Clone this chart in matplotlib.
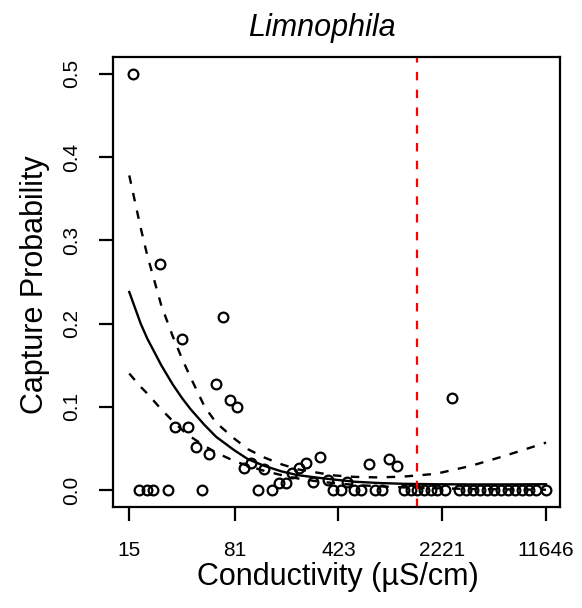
import numpy as np
import matplotlib
matplotlib.use("Agg")
from matplotlib import pyplot as plt

plt.rcParams['font.family'] = ['Liberation Sans', 'DejaVu Sans']

# observed capture probability per site
cond = [15.8, 17.6, 19.8, 22.0, 24.6, 27.7, 31.0, 34.6, 38.5, 43.3,
        48.1, 53.6, 59.9, 67.0, 74.9, 83.3, 93.6, 104.7, 116.5, 129.5,
        145.7, 163.8, 182.2, 202.5, 226.4, 253.2, 283.1, 315.1, 356.3, 389.6,
        438.5, 487.3, 542.4, 603.5, 689, 758, 844, 953, 1072, 1205,
        1341, 1490, 1659, 1846, 2051, 2309, 2606, 2900, 3243, 3627,
        4055, 4536, 5073, 5672, 6342, 7093, 7930, 8868, 9918, 11646]
prob = [0.50, 0, 0, 0, 0.272, 0, 0.076, 0.182, 0.076, 0.052,
        0, 0.043, 0.128, 0.208, 0.108, 0.100, 0.026, 0.032, 0, 0.025,
        0, 0.008, 0.008, 0.020, 0.026, 0.032, 0.010, 0.040, 0.012, 0,
        0, 0.010, 0, 0, 0.031, 0, 0, 0.037, 0.029, 0,
        0, 0, 0, 0, 0, 0, 0.111, 0, 0, 0,
        0, 0, 0, 0, 0, 0, 0, 0, 0, 0]

# fitted curve and confidence band
curve_x = [15, 18, 20, 25, 30, 35, 40, 50, 60, 80, 100, 130, 170, 220,
           300, 400, 550, 800, 1200, 2000, 3500, 6000, 11646]
fit = [0.238, 0.200, 0.182, 0.150, 0.127, 0.110, 0.097, 0.078, 0.064, 0.048,
       0.037, 0.029, 0.0225, 0.018, 0.015, 0.0125, 0.010, 0.0085, 0.0075,
       0.007, 0.0068, 0.0068, 0.007]
upper = [0.378, 0.315, 0.282, 0.222, 0.185, 0.157, 0.135, 0.100, 0.081, 0.062,
         0.049, 0.039, 0.031, 0.025, 0.021, 0.0175, 0.0158, 0.0152, 0.0162,
         0.0195, 0.029, 0.041, 0.057]
lower = [0.140, 0.124, 0.116, 0.097, 0.083, 0.072, 0.064, 0.053, 0.045, 0.035,
         0.029, 0.023, 0.018, 0.014, 0.0105, 0.0082, 0.0062, 0.0045, 0.0032,
         0.0022, 0.0013, 0.0008, 0.0004]

threshold = 1480
xticks = [15, 81, 423, 2221, 11646]
yticks = [0.0, 0.1, 0.2, 0.3, 0.4, 0.5]

fig = plt.figure(figsize=(5.82, 6.08), dpi=100)
ax = fig.add_axes([0.1936, 0.1666, 0.9622 - 0.1936, 0.9058 - 0.1666])
ax.set_xscale('log')

ax.plot(cond, prob, 'o', mfc='none', mec='black', ms=7, mew=1.6)
ax.plot(curve_x, fit, color='black', lw=1.7)
ax.plot(curve_x, upper, color='black', lw=1.7, dashes=(3.6, 4))
ax.plot(curve_x, lower, color='black', lw=1.7, dashes=(3.6, 4))
ax.axvline(threshold, color='red', lw=1.6, dashes=(3.8, 4.2))

ax.set_xlim(11.51, 14548)
ax.set_ylim(-0.02, 0.52)
ax.minorticks_off()
ax.set_xticks(xticks)
ax.set_xticklabels([str(t) for t in xticks], fontsize=15)
ax.minorticks_off()
ax.set_yticks(yticks)
ax.set_yticklabels(['%.1f' % t for t in yticks], fontsize=15,
                   rotation=90, va='center')
ax.tick_params(axis='x', length=10, width=1.6, pad=15)
ax.tick_params(axis='y', length=10, width=1.6, pad=13)
for s in ax.spines.values():
    s.set_linewidth(1.6)

fig.text(321.5 / 582, 1 - 28 / 608, 'Limnophila', style='italic', fontsize=22,
         ha='center', va='center')
fig.text(337.5 / 582, 1 - 577 / 608, 'Conductivity (µS/cm)', fontsize=22,
         ha='center', va='center')
fig.text(35 / 582, 1 - 285 / 608, 'Capture Probability', fontsize=22,
         ha='center', va='center', rotation=90)

fig.savefig('out.png', dpi=100)
